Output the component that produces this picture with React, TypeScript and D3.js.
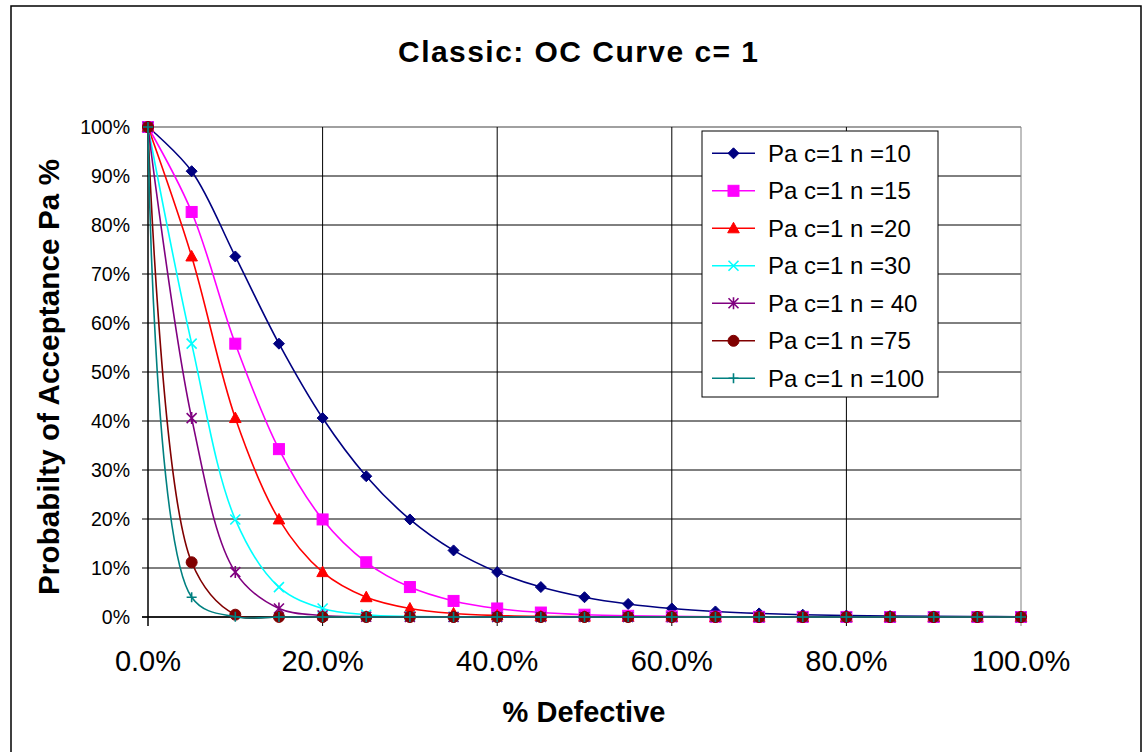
import React from "react";
import * as d3 from "d3";

const defectPct = [0, 0.05, 0.1, 0.15, 0.2, 0.25, 0.3, 0.35, 0.4, 0.45, 0.5, 0.55, 0.6, 0.65, 0.7, 0.75, 0.8, 0.85, 0.9, 0.95, 1.0];

const pa10 = [1, 0.9098, 0.7358, 0.5578, 0.406, 0.2873, 0.1991, 0.1359, 0.0916, 0.0611, 0.0404, 0.0266, 0.0174, 0.0113, 0.0073, 0.0047, 0.003, 0.0019, 0.0012, 0.0008, 0.0005];
const pa15 = [1, 0.8266, 0.5578, 0.3426, 0.1991, 0.1117, 0.0611, 0.0328, 0.0174, 0.0091, 0.0047, 0.0024, 0.0012, 0.0006, 0.0003, 0.0002, 0.0001, 0, 0, 0, 0];
const pa20 = [1, 0.7358, 0.406, 0.1991, 0.0916, 0.0404, 0.0174, 0.0073, 0.003, 0.0012, 0.0005, 0.0002, 0.0001, 0, 0, 0, 0, 0, 0, 0, 0];
const pa30 = [1, 0.5578, 0.1991, 0.0611, 0.0174, 0.0047, 0.0012, 0.0003, 0.0001, 0, 0, 0, 0, 0, 0, 0, 0, 0, 0, 0, 0];
const pa40 = [1, 0.406, 0.0916, 0.0174, 0.003, 0.0005, 0.0001, 0, 0, 0, 0, 0, 0, 0, 0, 0, 0, 0, 0, 0, 0];
const pa75 = [1, 0.1117, 0.0047, 0.0002, 0, 0, 0, 0, 0, 0, 0, 0, 0, 0, 0, 0, 0, 0, 0, 0, 0];
const pa100 = [1, 0.0404, 0.0005, 0, 0, 0, 0, 0, 0, 0, 0, 0, 0, 0, 0, 0, 0, 0, 0, 0, 0];

const seriesNames = ["Pa c=1 n =10", "Pa c=1 n =15", "Pa c=1 n =20", "Pa c=1 n =30", "Pa c=1 n = 40", "Pa c=1 n =75", "Pa c=1 n =100"];
const seriesColors = ["#000080", "#FF00FF", "#FF0000", "#00FFFF", "#800080", "#800000", "#008080"];
const seriesMarkers = ["diamond", "square", "triangle", "x", "asterisk", "circle", "plus"];
const seriesValues = [pa10, pa15, pa20, pa30, pa40, pa75, pa100];

const xTicks = [0, 0.2, 0.4, 0.6, 0.8, 1.0];
const xTickLabels = ["0.0%", "20.0%", "40.0%", "60.0%", "80.0%", "100.0%"];
const yTicks = [0, 0.1, 0.2, 0.3, 0.4, 0.5, 0.6, 0.7, 0.8, 0.9, 1.0];
const yTickLabels = ["0%", "10%", "20%", "30%", "40%", "50%", "60%", "70%", "80%", "90%", "100%"];

const FONT = "'Liberation Sans', Arial, Helvetica, sans-serif";

function Marker({ type, color, x, y }: { type: string; color: string; x: number; y: number }) {
  const t = `translate(${x},${y})`;
  switch (type) {
    case "diamond":
      return <path transform={t} d="M0,-5.5L5.5,0L0,5.5L-5.5,0Z" fill={color} stroke={color} strokeWidth={1} />;
    case "square":
      return <rect transform={t} x={-5.5} y={-5.5} width={11} height={11} fill={color} stroke={color} strokeWidth={1} />;
    case "triangle":
      return <path transform={t} d="M0,-6L5.8,4.5L-5.8,4.5Z" fill={color} stroke={color} strokeWidth={1} />;
    case "x":
      return <path transform={t} d="M-5,-5L5,5M-5,5L5,-5" fill="none" stroke={color} strokeWidth={1.6} />;
    case "asterisk":
      return <path transform={t} d="M-5,-5L5,5M-5,5L5,-5M0,-6L0,6" fill="none" stroke={color} strokeWidth={1.6} />;
    case "circle":
      return <circle cx={x} cy={y} r={5.5} fill={color} stroke={color} strokeWidth={1} />;
    case "plus":
      return <path transform={t} d="M-5,0L5,0M0,-5L0,5" fill="none" stroke={color} strokeWidth={1.6} />;
    default:
      return null;
  }
}

export default function App() {
  const x = d3.scaleLinear().domain([0, 1]).range([148, 1021]);
  const y = d3.scaleLinear().domain([0, 1]).range([617, 127]);
  const line = d3
    .line<number>()
    .x((_, i) => x(defectPct[i]))
    .y((d) => y(d))
    .curve(d3.curveCatmullRom.alpha(0.5));

  const legendX = 702;
  const legendY = 131;
  const rowH = 37.5;

  return (
    <svg
      width={1144}
      height={752}
      style={{ position: "absolute", left: 0, top: 0, background: "#fff" }}
      fontFamily={FONT}
    >
      <rect x={0} y={0} width={1144} height={752} fill="#fff" />
      {/* outer chart border */}
      <rect x={11} y={6} width={1130} height={760} fill="none" stroke="#000" strokeWidth={1.5} />

      {/* title */}
      <text x={578} y={62} textAnchor="middle" fontSize={30} fontWeight="bold" textLength={360} lengthAdjust="spacing">
        Classic: OC Curve c= 1
      </text>

      {/* horizontal gridlines + y ticks */}
      {yTicks.map((t, i) => (
        <g key={"y" + i}>
          <line
            x1={142}
            x2={1021}
            y1={y(t)}
            y2={y(t)}
            stroke={t === 1 ? "#808080" : "#000"}
            strokeWidth={t === 1 ? 1.5 : 1}
          />
          <text x={130} y={y(t) + 7} textAnchor="end" fontSize={19.5}>
            {yTickLabels[i]}
          </text>
        </g>
      ))}

      {/* vertical gridlines + x ticks */}
      {xTicks.map((t, i) => (
        <g key={"x" + i}>
          {t > 0 && (
            <line
              x1={x(t)}
              x2={x(t)}
              y1={127}
              y2={626}
              stroke={t === 1 ? "#808080" : "#000"}
              strokeWidth={1}
            />
          )}
          <text x={x(t)} y={671} textAnchor="middle" fontSize={29}>
            {xTickLabels[i]}
          </text>
        </g>
      ))}

      {/* axes */}
      <line x1={148} x2={148} y1={127} y2={626} stroke="#000" strokeWidth={1.5} />
      <line x1={142} x2={1021} y1={617} y2={617} stroke="#000" strokeWidth={1.5} />

      {/* series */}
      {seriesValues.map((vals, si) => (
        <g key={"s" + si}>
          <path d={line(vals) || ""} fill="none" stroke={seriesColors[si]} strokeWidth={1.6} />
          {vals.map((v, i) => (
            <Marker key={i} type={seriesMarkers[si]} color={seriesColors[si]} x={x(defectPct[i])} y={y(v)} />
          ))}
        </g>
      ))}

      {/* axis titles */}
      <text x={584} y={722} textAnchor="middle" fontSize={29} fontWeight="bold">
        % Defective
      </text>
      <text
        transform="translate(59,377) rotate(-90)"
        textAnchor="middle"
        fontSize={29.5}
        fontWeight="bold"
        textLength={436}
        lengthAdjust="spacing"
      >
        Probabilty of Acceptance Pa %
      </text>

      {/* legend */}
      <rect x={legendX} y={legendY} width={236} height={266} fill="#fff" stroke="#000" strokeWidth={1} />
      {seriesNames.map((name, i) => {
        const cy = 153.3 + i * rowH;
        return (
          <g key={"l" + i}>
            <line x1={712} x2={755} y1={cy} y2={cy} stroke={seriesColors[i]} strokeWidth={1.6} />
            <Marker type={seriesMarkers[i]} color={seriesColors[i]} x={733.5} y={cy} />
            <text x={768} y={cy + 8.5} fontSize={24}>
              {name}
            </text>
          </g>
        );
      })}
    </svg>
  );
}
